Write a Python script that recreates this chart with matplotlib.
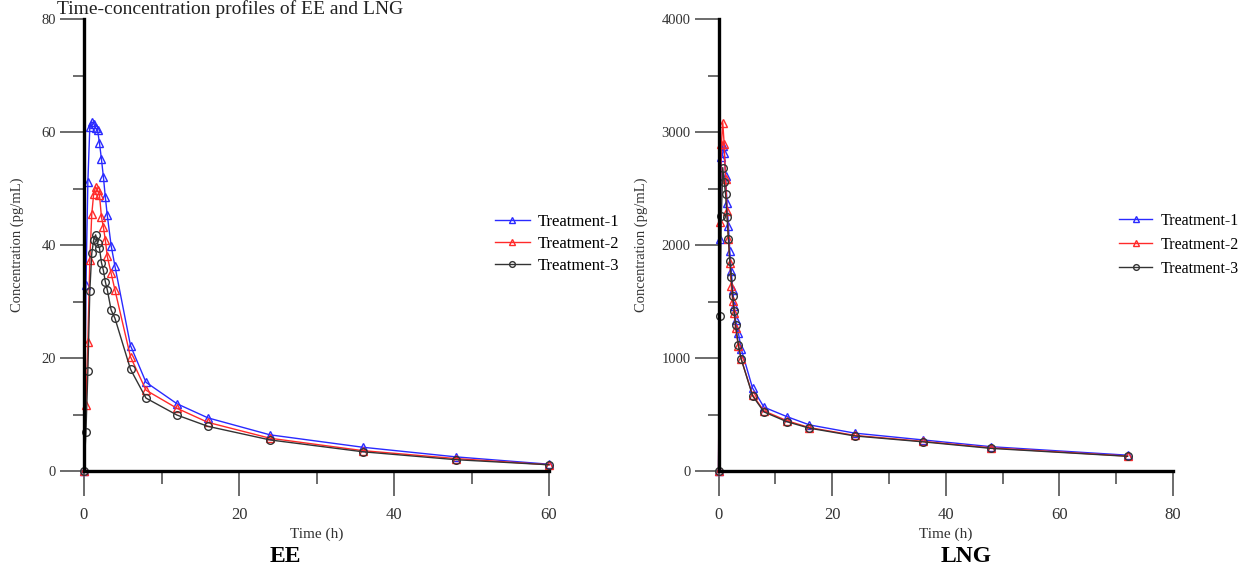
import numpy as np
import matplotlib
matplotlib.use("Agg")
import matplotlib.pyplot as plt
from matplotlib.ticker import MultipleLocator

plt.rcParams["font.family"] = ["Liberation Serif", "DejaVu Serif"]

# EE sampling times (h) and mean concentrations (pg/mL)
t_ee = [0, 0.25, 0.5, 0.75, 1, 1.25, 1.5, 1.75, 2, 2.25, 2.5, 2.75, 3, 3.5, 4,
        6, 8, 12, 16, 24, 36, 48, 60]
ee_t1 = [0, 33, 51.2, 60.9, 61.8, 61.5, 60.7, 60.3, 58, 55.2, 52.1, 48.5, 45.3,
         39.9, 36.2, 22.2, 15.7, 11.9, 9.4, 6.4, 4.2, 2.5, 1.2]
ee_t2 = [0, 11.7, 22.9, 37.3, 45.4, 49.1, 50.3, 49.7, 48.8, 45, 43.2, 40.9, 38,
         35, 32, 20.2, 14.3, 11.1, 8.6, 5.8, 3.6, 2.2, 1.1]
ee_t3 = [0, 6.9, 17.7, 31.9, 38.5, 40.9, 41.8, 40.3, 39.4, 36.9, 35.5, 33.5, 32.1,
         28.5, 27, 18, 12.9, 9.9, 7.9, 5.5, 3.4, 2.0, 1.1]

# LNG sampling times (h) and mean concentrations (pg/mL)
t_lng = [0, 0.25, 0.5, 0.75, 1, 1.25, 1.5, 1.75, 2, 2.25, 2.5, 2.75, 3, 3.5, 4,
         6, 8, 12, 16, 24, 36, 48, 72]
lng_t1 = [0, 2049, 2780, 2880, 2818, 2610, 2374, 2167, 1945, 1768, 1605, 1457,
          1339, 1221, 1079, 733, 565, 482, 408, 335, 275, 215, 140]
lng_t2 = [0, 2200, 2891, 3084, 2891, 2581, 2300, 2050, 1845, 1635, 1502, 1401,
          1268, 1102, 990, 674, 532, 446, 384, 315, 262, 205, 132]
lng_t3 = [0, 1368, 2255, 2685, 2560, 2448, 2250, 2055, 1856, 1714, 1552, 1413,
          1295, 1117, 990, 665, 523, 437, 379, 310, 258, 200, 130]

labels = ["Treatment-1", "Treatment-2", "Treatment-3"]
colors = ["#2a2aff", "#ff2a2a", "#333333"]
markers = ["^", "^", "o"]

fig = plt.figure(figsize=(12.43, 5.68), dpi=100)
W, H = 1243, 568


def panel(rect, t, series, xmax, xmaj, ymax, ymaj, legend_pos, leg_fs, leg_sp, ylab_x):
    ax = fig.add_axes(rect)
    for y, c, m, lab in zip(series, colors, markers, labels):
        ax.plot(t, y, color=c, marker=m, mfc="none", mec=c, ms=5.5, mew=1.0,
                lw=1.0, label=lab, clip_on=False, zorder=3)
    ax.set_xlim(0, xmax)
    ax.set_ylim(0, ymax)
    for s in ["top", "right"]:
        ax.spines[s].set_visible(False)
    for s in ["left", "bottom"]:
        ax.spines[s].set_linewidth(2.4)
        ax.spines[s].set_zorder(4)
    ax.xaxis.set_major_locator(MultipleLocator(xmaj))
    ax.xaxis.set_minor_locator(MultipleLocator(xmaj / 2))
    ax.yaxis.set_major_locator(MultipleLocator(ymaj))
    ax.yaxis.set_minor_locator(MultipleLocator(ymaj / 2))
    ax.tick_params(axis="x", which="major", direction="out", length=18, width=1.1,
                   color="#444444", labelsize=12, labelcolor="#333333", pad=8)
    ax.tick_params(axis="x", which="minor", direction="out", length=9, width=1.1,
                   color="#444444")
    ax.tick_params(axis="y", which="major", direction="out", length=17, width=1.1,
                   color="#444444", labelsize=10.5, labelcolor="#333333", pad=3)
    ax.tick_params(axis="y", which="minor", direction="out", length=8, width=1.1,
                   color="#444444")
    ax.set_xlabel("Time (h)", fontsize=11, color="#333333", labelpad=3)
    ax.set_ylabel("Concentration (pg/mL)", fontsize=10.5, color="#333333")
    ax.yaxis.set_label_coords(ylab_x, 0.5)
    ax.legend(loc="center left", bbox_to_anchor=legend_pos, frameon=False,
              fontsize=leg_fs, handlelength=2.1, handletextpad=0.5,
              labelspacing=leg_sp, markerscale=0.75, borderaxespad=0.2)
    return ax


ax1 = panel([84 / W, 1 - 471 / H, 465 / W, 452 / H], t_ee, [ee_t1, ee_t2, ee_t3],
            60, 20, 80, 20, (0.862, 0.502), 12, 0.35, -0.128)
ax2 = panel([718.5 / W, 1 - 471 / H, 454.5 / W, 452 / H], t_lng,
            [lng_t1, lng_t2, lng_t3], 80, 20, 4000, 1000, (0.860, 0.5), 11.5, 0.5, -0.156)

fig.text(285 / W, 1 - 557 / H, "EE", ha="center", va="center",
         fontsize=17, fontweight="bold")
fig.text(966 / W, 1 - 557 / H, "LNG", ha="center", va="center",
         fontsize=17, fontweight="bold")
fig.text(57 / W, 1 - 14 / H, "Time-concentration profiles of EE and LNG",
         ha="left", va="baseline", fontsize=14, color="#222222")

fig.savefig("out.png", dpi=100)
